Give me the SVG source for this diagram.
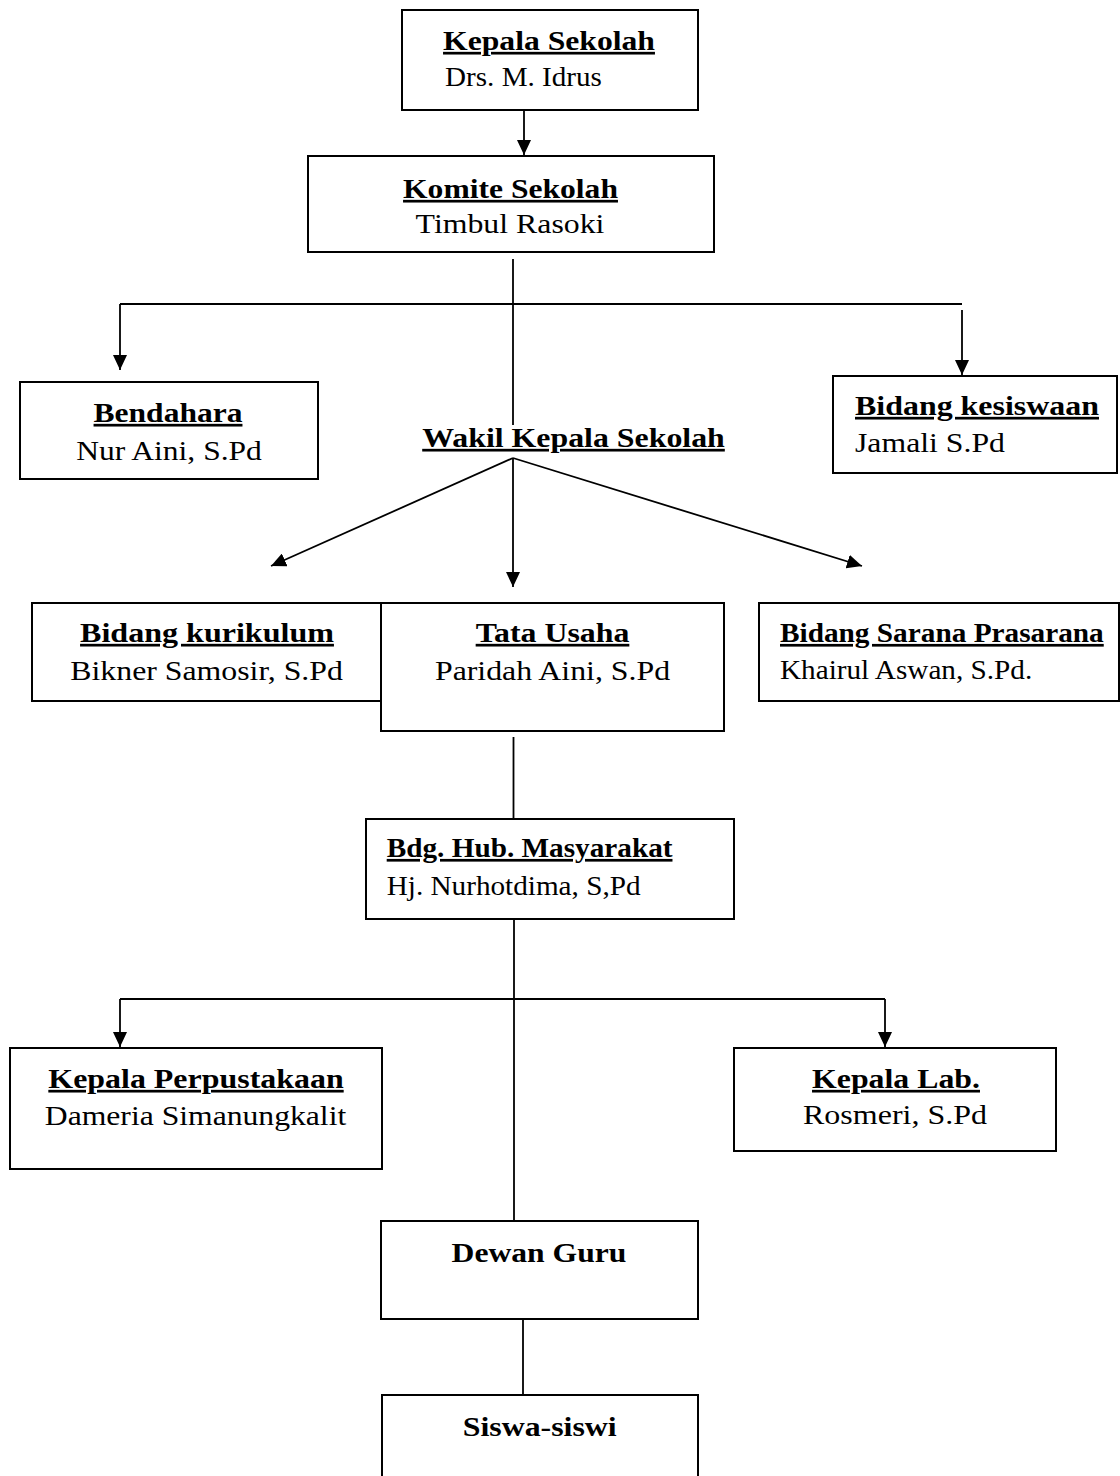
<svg xmlns="http://www.w3.org/2000/svg" width="1120" height="1476" viewBox="0 0 1120 1476">
<style>
  .box { fill: #ffffff; stroke: #000000; stroke-width: 2; }
  .t { font-family: "Liberation Serif", "Times New Roman", serif; font-size: 27px; fill: #000000; }
  .b { font-weight: bold; }
  .u { text-decoration: underline; text-decoration-thickness: 3px; text-underline-offset: 3px; text-decoration-skip-ink: none; }
  .c { text-anchor: middle; }
  .s { text-anchor: start; }
  .ln { fill: none; stroke: #000000; stroke-width: 1.8; }
</style>
<defs>
  <marker id="arr" viewBox="0 0 15 14" refX="15" refY="7" markerWidth="15" markerHeight="14" markerUnits="userSpaceOnUse" orient="auto">
    <path d="M0,0 L15,7 L0,14 z" fill="#000000"/>
  </marker>
</defs>
<rect x="0" y="0" width="1120" height="1476" fill="#ffffff"/>

<g id="connectors">
  <path class="ln" d="M524,110 V155" marker-end="url(#arr)"/>
  <path class="ln" d="M513,259 V425"/>
  <path class="ln" d="M120,304 H962"/>
  <path class="ln" d="M120,304 V370" marker-end="url(#arr)"/>
  <path class="ln" d="M962,310 V375" marker-end="url(#arr)"/>
  <path class="ln" d="M513,458 L271,566" marker-end="url(#arr)"/>
  <path class="ln" d="M513,458 V587" marker-end="url(#arr)"/>
  <path class="ln" d="M513,458 L862,566" marker-end="url(#arr)"/>
  <path class="ln" d="M513.5,737 V819"/>
  <path class="ln" d="M514,920 V1221"/>
  <path class="ln" d="M120,999 H885"/>
  <path class="ln" d="M120,999 V1047" marker-end="url(#arr)"/>
  <path class="ln" d="M885,999 V1047" marker-end="url(#arr)"/>
  <path class="ln" d="M523,1319 V1395"/>
</g>

<g id="kepala-sekolah">
  <rect class="box" x="402" y="10" width="296" height="100"/>
  <text class="t b u c" transform="translate(549,50) scale(1.173,1)">Kepala Sekolah</text>
  <text class="t s" transform="translate(445,86) scale(1.079,1)">Drs. M. Idrus</text>
</g>

<g id="komite-sekolah">
  <rect class="box" x="308" y="156" width="406" height="96"/>
  <text class="t b u c" transform="translate(510.5,198) scale(1.17,1)">Komite Sekolah</text>
  <text class="t c" transform="translate(510,233) scale(1.178,1)">Timbul Rasoki</text>
</g>

<g id="bendahara">
  <rect class="box" x="20" y="382" width="298" height="97"/>
  <text class="t b u c" transform="translate(168,422) scale(1.168,1)">Bendahara</text>
  <text class="t c" transform="translate(169,460) scale(1.168,1)">Nur Aini, S.Pd</text>
</g>

<g id="wakil-kepala-sekolah">
  <text class="t b u c" transform="translate(573.5,447) scale(1.18,1)">Wakil Kepala Sekolah</text>
</g>

<g id="bidang-kesiswaan">
  <rect class="box" x="833" y="376" width="284" height="97"/>
  <text class="t b u s" transform="translate(855,415) scale(1.183,1)">Bidang kesiswaan</text>
  <text class="t s" transform="translate(855,452) scale(1.176,1)">Jamali S.Pd</text>
</g>

<g id="bidang-kurikulum">
  <rect class="box" x="32" y="603" width="349" height="98"/>
  <text class="t b u c" transform="translate(207,642) scale(1.188,1)">Bidang kurikulum</text>
  <text class="t c" transform="translate(206.6,680) scale(1.178,1)">Bikner Samosir, S.Pd</text>
</g>

<g id="tata-usaha">
  <rect class="box" x="381" y="603" width="343" height="128"/>
  <text class="t b u c" transform="translate(552.5,642) scale(1.18,1)">Tata Usaha</text>
  <text class="t c" transform="translate(552.5,680) scale(1.179,1)">Paridah Aini, S.Pd</text>
</g>

<g id="bidang-sarana-prasarana">
  <rect class="box" x="759" y="603" width="360" height="98"/>
  <text class="t b u s" transform="translate(780,642) scale(1.085,1)">Bidang Sarana Prasarana</text>
  <text class="t s" transform="translate(780,679) scale(1.082,1)">Khairul Aswan, S.Pd.</text>
</g>

<g id="bdg-hub-masyarakat">
  <rect class="box" x="366" y="819" width="368" height="100"/>
  <text class="t b u s" transform="translate(386.7,857) scale(1.083,1)">Bdg. Hub. Masyarakat</text>
  <text class="t s" transform="translate(386.7,895) scale(1.082,1)">Hj. Nurhotdima, S,Pd</text>
</g>

<g id="kepala-perpustakaan">
  <rect class="box" x="10" y="1048" width="372" height="121"/>
  <text class="t b u c" transform="translate(196,1088) scale(1.183,1)">Kepala Perpustakaan</text>
  <text class="t c" transform="translate(195.5,1125) scale(1.173,1)">Dameria Simanungkalit</text>
</g>

<g id="kepala-lab">
  <rect class="box" x="734" y="1048" width="322" height="103"/>
  <text class="t b u c" transform="translate(896,1088) scale(1.179,1)">Kepala Lab.</text>
  <text class="t c" transform="translate(895,1124) scale(1.185,1)">Rosmeri, S.Pd</text>
</g>

<g id="dewan-guru">
  <rect class="box" x="381" y="1221" width="317" height="98"/>
  <text class="t b c" transform="translate(539,1262) scale(1.172,1)">Dewan Guru</text>
</g>

<g id="siswa-siswi">
  <rect class="box" x="382" y="1395" width="316" height="100"/>
  <text class="t b c" transform="translate(539.7,1436) scale(1.18,1)">Siswa-siswi</text>
</g>
</svg>
